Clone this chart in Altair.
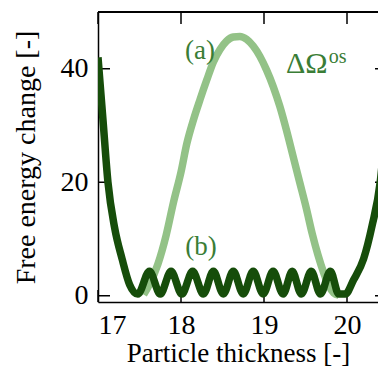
import altair as alt
import pandas as pd

# Curve (a): light green bump
a_x = [17.55, 17.62, 17.72, 17.82, 17.91, 18.0, 18.07, 18.15, 18.23, 18.31, 18.39, 18.47,
       18.55, 18.63, 18.71, 18.79, 18.87, 18.95, 19.03, 19.11, 19.19, 19.27, 19.35, 19.43,
       19.51, 19.58, 19.65, 19.72, 19.78, 19.84, 19.90]
a_y = [0.2, 2.0, 5.5, 10.6, 16.5, 21.8, 26.8, 31.0, 34.6, 38.0, 41.2, 43.4,
       44.9, 45.6, 45.7, 45.2, 44.0, 42.2, 39.8, 36.9, 33.4, 29.2, 24.6, 20.0,
       15.4, 11.0, 7.2, 4.0, 1.8, 0.5, 0.1]

# Curve (b): dark green oscillating well
b_x = [17.0, 17.06, 17.12, 17.2, 17.29, 17.38, 17.48,
       17.62, 17.75, 17.88, 18.01, 18.14, 18.27, 18.39, 18.51, 18.63, 18.75,
       18.87, 18.99, 19.11, 19.23, 19.34, 19.45, 19.57, 19.68, 19.80,
       19.90, 19.98, 20.08, 20.2, 20.3, 20.4, 20.46, 20.52]
b_y = [42.0, 31.0, 20.0, 12.0, 6.5, 2.0, 0.3,
       4.3, 0.3, 4.3, 0.3, 4.3, 0.3, 4.3, 0.3, 4.3, 0.3,
       4.3, 0.3, 4.3, 0.3, 4.3, 0.3, 4.3, 0.3, 4.3,
       0.3, 0.3, 2.8, 6.5, 12.2, 20.0, 29.0, 38.0]

x_ticks = [17, 18, 19, 20]
y_ticks = [0, 20, 40]

labels_text = ["(a)", "(b)"]
labels_x = [18.23, 18.24]
labels_y = [43.2, 8.6]

omega_text = ["ΔΩ"]
omega_x = [19.265]
omega_y = [39.3]
sup_text = ["os"]
sup_x = [19.78]
sup_y = [41.0]

W, H = 280, 290
X_DOM = [17.0, 17.0 + W / 83]
Y_DOM = [-1.1, 50]

LIGHT = "#93c287"
DARK = "#164d0a"
TXT = "#3a7d36"
FONT = "Liberation Serif"

xs = alt.Scale(domain=X_DOM, nice=False, zero=False)
ys = alt.Scale(domain=Y_DOM, nice=False, zero=False)

df_a = pd.DataFrame({"x": a_x, "y": a_y})
df_b = pd.DataFrame({"x": b_x, "y": b_y})
df_xt = pd.DataFrame({"t": x_ticks})
df_yt = pd.DataFrame({"t": y_ticks})

xt_bottom = alt.Chart(df_xt).mark_rule(color="black", strokeWidth=1.5).encode(
    x=alt.X("t:Q", scale=xs), y=alt.value(H), y2=alt.value(H - 12))
xt_top = alt.Chart(df_xt).mark_rule(color="black", strokeWidth=1.5).encode(
    x=alt.X("t:Q", scale=xs), y=alt.value(0), y2=alt.value(12))
yt_left = alt.Chart(df_yt).mark_rule(color="black", strokeWidth=1.5).encode(
    y=alt.Y("t:Q", scale=ys), x=alt.value(0), x2=alt.value(12))
yt_right = alt.Chart(df_yt).mark_rule(color="black", strokeWidth=1.5).encode(
    y=alt.Y("t:Q", scale=ys), x=alt.value(W - 3), x2=alt.value(W))
top_line = alt.Chart(df_xt).mark_rule(color="black", strokeWidth=1.5).encode(
    x=alt.value(0), x2=alt.value(W), y=alt.value(0))

line_a = alt.Chart(df_a).mark_line(color=LIGHT, strokeWidth=7.5, interpolate="monotone", clip=True).encode(
    x=alt.X("x:Q", scale=xs,
            axis=alt.Axis(values=x_ticks, format="d", title="Particle thickness [-]", ticks=False, grid=False,
                          domainColor="black", domainWidth=1.5, labelFlush=True,
                          labelFont=FONT, labelFontSize=28, labelColor="black", labelPadding=9,
                          titleFont=FONT, titleFontSize=27, titleFontWeight="normal",
                          titleColor="black", titlePadding=1)),
    y=alt.Y("y:Q", scale=ys,
            axis=alt.Axis(values=y_ticks, format="d", title="Free energy change [-]", ticks=False, grid=False,
                          domainColor="black", domainWidth=1.5, labelFlush=False,
                          labelFont=FONT, labelFontSize=28, labelColor="black", labelPadding=10,
                          titleFont=FONT, titleFontSize=28, titleFontWeight="normal",
                          titleColor="black", titlePadding=20)),
)
line_b = alt.Chart(df_b).mark_line(color=DARK, strokeWidth=7.5, interpolate="monotone", clip=True).encode(
    x=alt.X("x:Q", scale=xs), y=alt.Y("y:Q", scale=ys))

df_lab = pd.DataFrame({"x": labels_x, "y": labels_y, "s": labels_text})
lab = alt.Chart(df_lab).mark_text(font=FONT, fontSize=27, color=TXT, align="center", baseline="middle").encode(
    x=alt.X("x:Q", scale=xs), y=alt.Y("y:Q", scale=ys), text="s:N")
df_om = pd.DataFrame({"x": omega_x, "y": omega_y, "s": omega_text})
om = alt.Chart(df_om).mark_text(font=FONT, fontSize=30, color=TXT, align="left", baseline="alphabetic").encode(
    x=alt.X("x:Q", scale=xs), y=alt.Y("y:Q", scale=ys), text="s:N")
df_sup = pd.DataFrame({"x": sup_x, "y": sup_y, "s": sup_text})
sup = alt.Chart(df_sup).mark_text(font=FONT, fontSize=20, color=TXT, align="left", baseline="alphabetic").encode(
    x=alt.X("x:Q", scale=xs), y=alt.Y("y:Q", scale=ys), text="s:N")

chart = alt.layer(
    line_a, xt_bottom, xt_top, yt_left, yt_right, top_line, line_b, lab, om, sup
).properties(
    width=W, height=H,
    autosize=alt.AutoSizeParams(type="none"),
    padding={"left": 90, "top": 4, "right": 0, "bottom": 69},
).configure_view(stroke=None)

chart.save("out.html", embed_options={"renderer": "svg", "actions": False})
